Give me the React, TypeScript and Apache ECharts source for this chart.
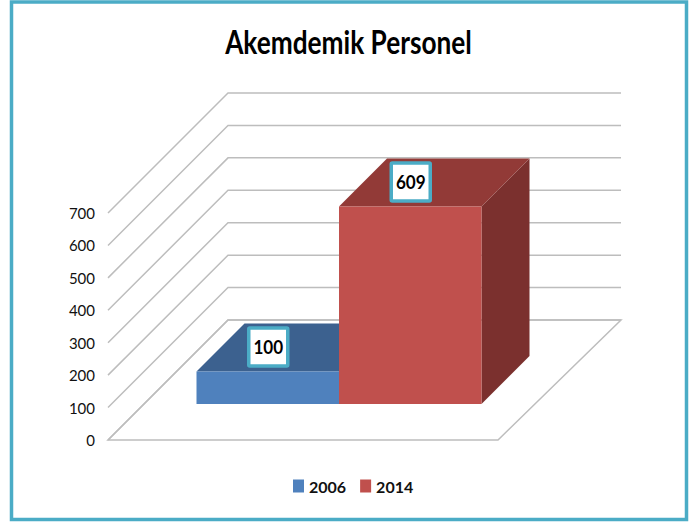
import React, { useEffect, useRef } from "react";
import * as echarts from "echarts";

const titleText = "Akemdemik Personel";
const categories = ["Akademik"];
const seriesNames = ["2006", "2014"];
const values2006 = [100];
const values2014 = [609];
const yTicks = [0, 100, 200, 300, 400, 500, 600, 700];

const FONT = "Lato";
const DEPTH_X = 120;
const DEPTH_Y = 120;
const FRONT_GAP = 36;
const BAR_DEPTH = 48;
const BAR_RATIO = 142.5 / 390;
const LINE = "#BDBDBD";
const FRAME = "#4BACC6";

function floorItem(_p: any, api: any) {
  const [x0, y0] = api.coord([0, 0]);
  const w = api.size([1, 0])[0];
  const left = x0 - w / 2;
  const right = x0 + w / 2;
  return {
    type: "polygon",
    shape: {
      points: [
        [left, y0],
        [right, y0],
        [right + DEPTH_X + 3, y0 - DEPTH_Y],
        [left + DEPTH_X, y0 - DEPTH_Y],
      ],
    },
    style: { fill: "#fff", stroke: LINE, lineWidth: 1.5 },
  };
}

function gridItem(_p: any, api: any) {
  const [x0, y] = api.coord([0, api.value(1)]);
  const w = api.size([1, 0])[0];
  const left = x0 - w / 2;
  const right = x0 + w / 2;
  return {
    type: "polyline",
    shape: {
      points: [
        [left, y],
        [left + DEPTH_X, y - DEPTH_Y],
        [right + DEPTH_X + 3, y - DEPTH_Y],
      ],
    },
    style: { fill: "none", stroke: LINE, lineWidth: 1.5 },
  };
}

function barRenderer(slot: number, front: string, top: string, side: string) {
  return (_p: any, api: any) => {
    const value = api.value(1);
    const [cx, yBase] = api.coord([0, 0]);
    const [, yTop] = api.coord([0, value]);
    const w = api.size([1, 0])[0] * BAR_RATIO;
    const x1 = cx + FRONT_GAP + (slot - 1) * w;
    const x2 = x1 + w;
    const y1 = yTop - FRONT_GAP;
    const y2 = yBase - FRONT_GAP;
    const d = BAR_DEPTH;
    const lx = (x1 + x2) / 2 + 0.5;
    const ly = y1 - 24.5;
    return {
      type: "group",
      children: [
        {
          type: "polygon",
          shape: { points: [[x2, y1], [x2 + d, y1 - d], [x2 + d, y2 - d], [x2, y2]] },
          style: { fill: side },
        },
        {
          type: "polygon",
          shape: { points: [[x1, y1], [x1 + d, y1 - d], [x2 + d, y1 - d], [x2, y1]] },
          style: { fill: top },
        },
        {
          type: "rect",
          shape: { x: x1, y: y1, width: w, height: y2 - y1 },
          style: { fill: front },
        },
        {
          type: "rect",
          shape: { x: lx - 19.5, y: ly - 19, width: 39, height: 38, r: 1 },
          style: { fill: "#fff", stroke: FRAME, lineWidth: 3.5 },
        },
        {
          type: "text",
          x: lx,
          y: ly,
          scaleX: 0.9,
          style: {
            text: String(value),
            fill: "#000",
            font: `bold 19px ${FONT}`,
            align: "center",
            verticalAlign: "middle",
          },
        },
      ],
    };
  };
}

export default function App() {
  const ref = useRef<HTMLDivElement>(null);
  useEffect(() => {
    const chart = echarts.init(ref.current!, null, { renderer: "svg" });
    chart.setOption({
      animation: false,
      backgroundColor: "#fff",
      grid: { left: 108, top: 213, width: 390, height: 227 },
      xAxis: {
        type: "category",
        data: categories,
        axisLine: { show: false },
        axisTick: { show: false },
        axisLabel: { show: false },
      },
      yAxis: {
        type: "value",
        min: 0,
        max: 700,
        interval: 100,
        axisLine: { show: false },
        axisTick: { show: false },
        splitLine: { show: false },
        axisLabel: { margin: 13, fontFamily: FONT, fontSize: 15, color: "#111" },
      },
      legend: {
        data: seriesNames,
        left: 288,
        top: 473,
        itemWidth: 11,
        itemHeight: 13,
        itemGap: 14,
        icon: "rect",
        textStyle: { fontFamily: FONT, fontWeight: "bold", fontSize: 16, color: "#111" },
      },
      graphic: [
        {
          type: "text",
          x: 348.5,
          y: 41,
          scaleX: 0.82,
          style: {
            text: titleText,
            fill: "#000",
            font: `bold 32px ${FONT}`,
            align: "center",
            verticalAlign: "middle",
          },
        },
        {
          type: "rect",
          silent: true,
          z: 100,
          shape: { x: 11.5, y: 2, width: 675, height: 517.5 },
          style: { fill: "none", stroke: FRAME, lineWidth: 3.5 },
        },
      ],
      series: [
        {
          type: "custom",
          name: "floor",
          z: 1,
          clip: false,
          silent: true,
          data: [[0, 0]],
          renderItem: floorItem,
        },
        {
          type: "custom",
          name: "grid",
          z: 2,
          clip: false,
          silent: true,
          data: yTicks.map((t) => [0, t]),
          renderItem: gridItem,
        },
        {
          type: "custom",
          name: seriesNames[0],
          z: 3,
          clip: false,
          itemStyle: { color: "#4F81BD" },
          data: values2006.map((v, i) => [i, v]),
          renderItem: barRenderer(0, "#4F81BD", "#3C618F", "#32527A"),
        },
        {
          type: "custom",
          name: seriesNames[1],
          z: 4,
          clip: false,
          itemStyle: { color: "#C0504D" },
          data: values2014.map((v, i) => [i, v]),
          renderItem: barRenderer(1, "#C0504D", "#923A37", "#7B302E"),
        },
      ],
    });
    return () => chart.dispose();
  }, []);
  return <div ref={ref} style={{ position: "absolute", left: 0, top: 0, width: 694, height: 522 }} />;
}
